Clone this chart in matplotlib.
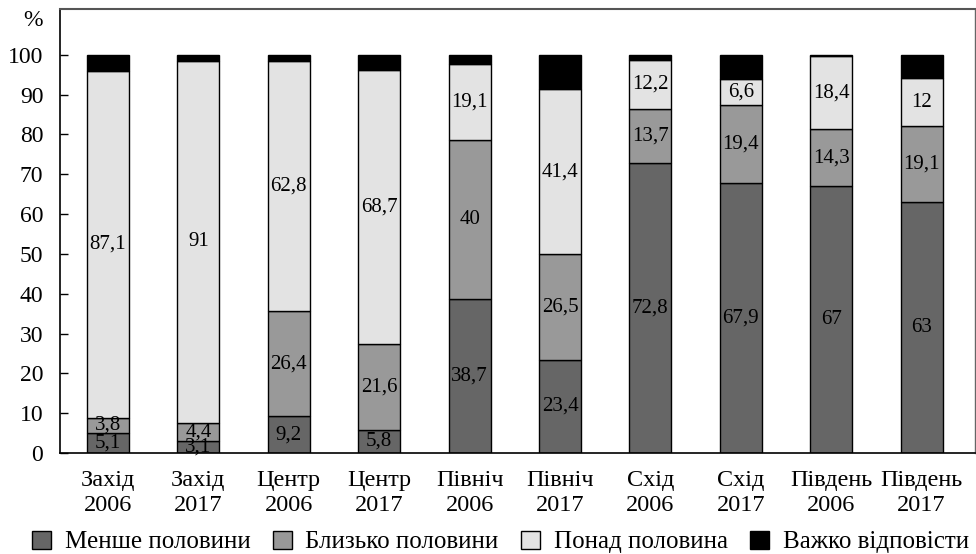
import numpy as np
import matplotlib
matplotlib.use("Agg")
import matplotlib.pyplot as plt

plt.rcParams["font.family"] = ["Liberation Serif", "DejaVu Serif"]

regions = ["Захід\n2006", "Захід\n2017", "Центр\n2006", "Центр\n2017",
           "Північ\n2006", "Північ\n2017", "Схід\n2006", "Схід\n2017",
           "Південь\n2006", "Південь\n2017"]

less_half = [5.1, 3.1, 9.2, 5.8, 38.7, 23.4, 72.8, 67.9, 67, 63]
about_half = [3.8, 4.4, 26.4, 21.6, 40, 26.5, 13.7, 19.4, 14.3, 19.1]
over_half = [87.1, 91, 62.8, 68.7, 19.1, 41.4, 12.2, 6.6, 18.4, 12]
hard_to_say = [4.0, 1.5, 1.6, 3.9, 2.2, 8.7, 1.3, 6.1, 0.3, 5.9]

series = [
    ("Менше половини", less_half, "#666666", True),
    ("Близько половини", about_half, "#999999", True),
    ("Понад половина", over_half, "#e3e3e3", True),
    ("Важко відповісти", hard_to_say, "#000000", False),
]

fig = plt.figure(figsize=(9.76, 5.54), dpi=100)
ax = fig.add_axes([0.0615, 0.1823, 0.9375, 0.8015])

x = np.arange(len(regions))
width = 0.465
bottom = np.zeros(len(regions))
handles = []
for name, vals, color, labelled in series:
    vals = np.asarray(vals, dtype=float)
    bars = ax.bar(x, vals, width, bottom=bottom, color=color,
                  edgecolor="black", linewidth=1.0, label=name)
    handles.append(bars)
    if labelled:
        for xi, b, v in zip(x, bottom, vals):
            txt = f"{v:g}".replace(".", ",")
            ax.text(xi, b + v / 2, txt, ha="center", va="center",
                    fontsize=15, color="black")
    bottom += vals

ax.set_xlim(-0.53, 9.59)
ax.set_ylim(0, 111.5)
ax.set_yticks(np.arange(0, 101, 10))
ax.set_xticks(x)
ax.set_xticklabels(regions, fontsize=17.5, linespacing=1.3)
ax.tick_params(axis="x", length=0, pad=12)
ax.tick_params(axis="y", direction="in", length=6, width=1, labelsize=17, pad=12)

for side in ("left", "bottom"):
    ax.spines[side].set_color("black")
    ax.spines[side].set_linewidth(1.2)
ax.spines["top"].set_color("#555555")
ax.spines["top"].set_linewidth(1.5)
ax.spines["right"].set_color("#666666")
ax.spines["right"].set_linewidth(1.0)

ax.text(-0.0186, 0.975, "%", transform=ax.transAxes, ha="right", va="center", fontsize=17)

fig.legend(handles=handles, loc="center left", bbox_to_anchor=(0.0328, 0.0217),
           ncol=4, frameon=False, fontsize=18, handlelength=0.75,
           handleheight=0.75, handletextpad=0.55, columnspacing=0.9,
           borderpad=0, borderaxespad=0)

fig.savefig("out.png", dpi=100)
